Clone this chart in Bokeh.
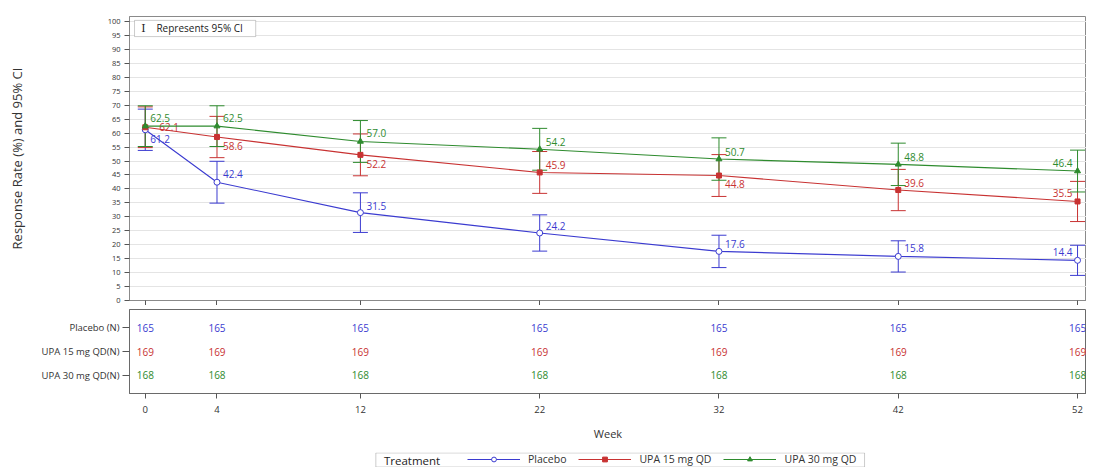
from bokeh.plotting import figure
from bokeh.models import (Whisker, TeeHead, ColumnDataSource, FactorRange, Range1d,
                          Legend, LegendItem, Label, FixedTicker, BoxAnnotation)
from bokeh.layouts import column
from bokeh.embed import file_html
from bokeh.resources import INLINE
from bokeh.core.properties import value

# ---------------- data ----------------
weeks = [0, 4, 12, 22, 32, 42, 52]
treatments = ["Placebo", "UPA 15 mg QD", "UPA 30 mg QD"]
row_labels = ["Placebo (N)", "UPA 15 mg QD(N)", "UPA 30 mg QD(N)"]

placebo_rate = [61.2, 42.4, 31.5, 24.2, 17.6, 15.8, 14.4]
placebo_lower = [53.8, 34.9, 24.4, 17.7, 11.8, 10.2, 9.0]
placebo_upper = [68.6, 49.9, 38.6, 30.7, 23.4, 21.4, 19.8]
placebo_n = [165, 165, 165, 165, 165, 165, 165]

upa15_rate = [62.1, 58.6, 52.2, 45.9, 44.8, 39.6, 35.5]
upa15_lower = [54.8, 51.2, 44.7, 38.4, 37.3, 32.2, 28.3]
upa15_upper = [69.4, 66.0, 59.7, 53.4, 52.3, 47.0, 42.7]
upa15_n = [169, 169, 169, 169, 169, 169, 169]

upa30_rate = [62.5, 62.5, 57.0, 54.2, 50.7, 48.8, 46.4]
upa30_lower = [55.2, 55.2, 49.5, 46.7, 43.1, 41.2, 38.9]
upa30_upper = [69.8, 69.8, 64.5, 61.7, 58.3, 56.4, 53.9]
upa30_n = [168, 168, 168, 168, 168, 168, 168]

y_ticks = list(range(0, 101, 5))

# ---------------- styles ----------------
FONT = "Open Sans"
colors = ["#3b3bd0", "#c83232", "#2e8b2e"]
markers = ["circle", "square", "triangle"]
marker_fill = ["white", colors[1], colors[2]]
marker_size = [6, 5, 6]
# label offsets (pixels) per point, and alignment
label_dx = [[5, 6, 6, 6, 6, 6, -5],
            [14, 6, 6, 6, 6, 6, -5],
            [5, 6, 6, 6, 6, 6, -5]]
label_dy = [[9, -8, -7, -7, -7, -8, -8],
            [0, 9, 9, -7, 8, -7, -8],
            [-8, -8, -8, -7, -7, -7, -8]]
label_align = ["left"] * 6 + ["right"]

series = [
    (placebo_rate, placebo_lower, placebo_upper, placebo_n),
    (upa15_rate, upa15_lower, upa15_upper, upa15_n),
    (upa30_rate, upa30_lower, upa30_upper, upa30_n),
]

x_range = Range1d(-0.88, 52.5)
BL = 129      # left border (px) shared by all panels
FW = 957      # frame width shared by all panels

# ---------------- main panel ----------------
p1 = figure(frame_width=FW, frame_height=284, x_range=x_range, y_range=Range1d(0, 101.8),
            output_backend="svg", toolbar_location=None,
            min_border_left=BL, min_border_right=0, min_border_top=16, min_border_bottom=0,
            background_fill_color="white", border_fill_color="white")
p1.outline_line_color = "#8a8a8a"
p1.xgrid.visible = False
p1.ygrid.grid_line_color = "#e4e4e4"
p1.ygrid.ticker = FixedTicker(ticks=y_ticks)

p1.yaxis.ticker = FixedTicker(ticks=y_ticks)
p1.yaxis.axis_label = "Response Rate (%) and 95% CI"
p1.yaxis.axis_label_text_font = FONT
p1.yaxis.axis_label_text_font_size = "13px"
p1.yaxis.axis_label_text_font_style = "normal"
p1.yaxis.axis_label_text_color = "#333333"
p1.yaxis.axis_label_standoff = 79
p1.yaxis.major_label_text_font = FONT
p1.yaxis.major_label_text_font_size = "7.5px"
p1.yaxis.major_label_text_color = "#333333"
p1.yaxis.major_label_standoff = 4
p1.yaxis.major_tick_out = 5
p1.yaxis.major_tick_in = 0
p1.yaxis.minor_tick_line_color = None
p1.yaxis.axis_line_color = "#8a8a8a"
p1.yaxis.major_tick_line_color = "#555555"

p1.xaxis.ticker = FixedTicker(ticks=weeks)
p1.xaxis.major_label_text_font_size = "1px"
p1.xaxis.major_label_text_color = None
p1.xaxis.major_label_standoff = 0
p1.xaxis.major_tick_out = 5
p1.xaxis.major_tick_in = 0
p1.xaxis.minor_tick_line_color = None
p1.xaxis.axis_line_color = "#8a8a8a"
p1.xaxis.major_tick_line_color = "#555555"

sources = []
for i, (rate, lo, hi, n) in enumerate(series):
    c = colors[i]
    src = ColumnDataSource(dict(
        x=weeks, y=rate, lower=lo, upper=hi,
        label=[f"{v:.1f}" for v in rate],
        dx=label_dx[i], dy=label_dy[i], align=label_align))
    sources.append(src)
    w = Whisker(source=src, base="x", upper="upper", lower="lower", dimension="height",
                line_color=c, line_width=1,
                upper_head=TeeHead(size=15, line_color=c, line_width=1),
                lower_head=TeeHead(size=15, line_color=c, line_width=1))
    p1.add_layout(w)
    p1.line(x="x", y="y", source=src, line_color=c, line_width=1.1)
    p1.scatter(x="x", y="y", source=src, marker=markers[i], size=marker_size[i],
               line_color=c, fill_color=marker_fill[i], line_width=1)
    p1.text(x="x", y="y", text="label", source=src, x_offset="dx", y_offset="dy",
            text_align="align", text_baseline="middle", text_font=value(FONT),
            text_font_size="10px", text_color=c)

# "Represents 95% CI" box
p1.add_layout(BoxAnnotation(left=-0.60, right=6.16, top=100.4, bottom=94.6,
                            fill_color="white", fill_alpha=1.0,
                            line_color="#555555", line_width=1))
p1.add_layout(Label(x=-0.1, y=97.5, text="I", text_font="DejaVu Serif", text_font_size="11px",
                    text_color="#222222", text_align="center", text_baseline="middle"))
p1.add_layout(Label(x=0.62, y=97.5, text="Represents 95% CI", text_font=FONT,
                    text_font_size="10px", text_color="#222222",
                    text_baseline="middle"))

# ---------------- at-risk table panel ----------------
p2 = figure(frame_width=FW, frame_height=84, x_range=x_range,
            y_range=FactorRange(factors=row_labels[::-1], range_padding=0.19),
            output_backend="svg", toolbar_location=None,
            min_border_left=BL, min_border_right=0, min_border_top=4, min_border_bottom=59,
            background_fill_color="white", border_fill_color="white")
p2.outline_line_color = "#6a6a6a"
p2.xgrid.visible = False
p2.ygrid.visible = False

p2.yaxis.major_label_text_font = FONT
p2.yaxis.major_label_text_font_size = "9.5px"
p2.yaxis.major_label_text_color = "#333333"
p2.yaxis.major_label_standoff = 3
p2.yaxis.major_tick_out = 7
p2.yaxis.major_tick_in = 0
p2.yaxis.axis_line_color = "#6a6a6a"
p2.yaxis.major_tick_line_color = "#555555"

p2.xaxis.ticker = FixedTicker(ticks=weeks)
p2.xaxis.axis_label = "Week"
p2.xaxis.axis_label_text_font = FONT
p2.xaxis.axis_label_text_font_size = "11px"
p2.xaxis.axis_label_text_font_style = "normal"
p2.xaxis.axis_label_text_color = "#333333"
p2.xaxis.axis_label_standoff = 10
p2.xaxis.major_label_text_font = FONT
p2.xaxis.major_label_text_font_size = "9.5px"
p2.xaxis.major_label_text_color = "#333333"
p2.xaxis.major_label_standoff = 7
p2.xaxis.major_tick_out = 5
p2.xaxis.major_tick_in = 0
p2.xaxis.minor_tick_line_color = None
p2.xaxis.axis_line_color = "#6a6a6a"
p2.xaxis.major_tick_line_color = "#555555"

for i, (rate, lo, hi, n) in enumerate(series):
    c = colors[i]
    src = ColumnDataSource(dict(x=weeks, y=[row_labels[i]] * len(weeks), n=[str(v) for v in n]))
    p2.text(x="x", y="y", text="n", source=src, text_align="center", text_baseline="middle",
            text_font=value(FONT), text_font_size="10px", text_color=c)

# ---------------- legend strip ----------------
# same horizontal geometry as the panels above; the y range is chosen so that the
# series (drawn here only to provide legend samples) fall outside the visible strip
p3 = figure(frame_width=FW, frame_height=15, x_range=x_range, y_range=Range1d(-10, -9),
            output_backend="svg", toolbar_location=None,
            x_axis_location=None, y_axis_location=None,
            min_border_left=BL, min_border_right=0, min_border_top=0, min_border_bottom=0,
            background_fill_color="white", border_fill_color="white")
p3.outline_line_color = None
p3.grid.visible = False

legend_items = []
for i in range(len(treatments)):
    c = colors[i]
    lr = p3.line(x="x", y="y", source=sources[i], line_color=c, line_width=1.1)
    sr = p3.scatter(x="x", y="y", source=sources[i], marker=markers[i], size=marker_size[i],
                    line_color=c, fill_color=marker_fill[i], line_width=1)
    legend_items.append(LegendItem(label=treatments[i], renderers=[lr, sr]))

p3.add_layout(BoxAnnotation(left=12.86, right=40.12, bottom=-9.97, top=-9.03,
                            fill_color="white", fill_alpha=1.0,
                            line_color="#555555", line_width=1))
p3.add_layout(Label(x=13.31, y=-9.5, text="Treatment",
                    text_font=FONT, text_font_size="11.5px", text_color="#222222",
                    text_baseline="middle"))
legend = Legend(items=legend_items, orientation="horizontal", location=(338, 1),
                glyph_width=53, glyph_height=12, label_height=12, label_standoff=8,
                spacing=12, padding=0, margin=0, border_line_color=None,
                background_fill_alpha=0,
                label_text_font=FONT, label_text_font_size="10.5px",
                label_text_color="#333333", label_text_baseline="middle")
p3.add_layout(legend)

layout = column(p1, p2, p3, spacing=0)
open("out.html", "w").write(file_html(layout, INLINE))
